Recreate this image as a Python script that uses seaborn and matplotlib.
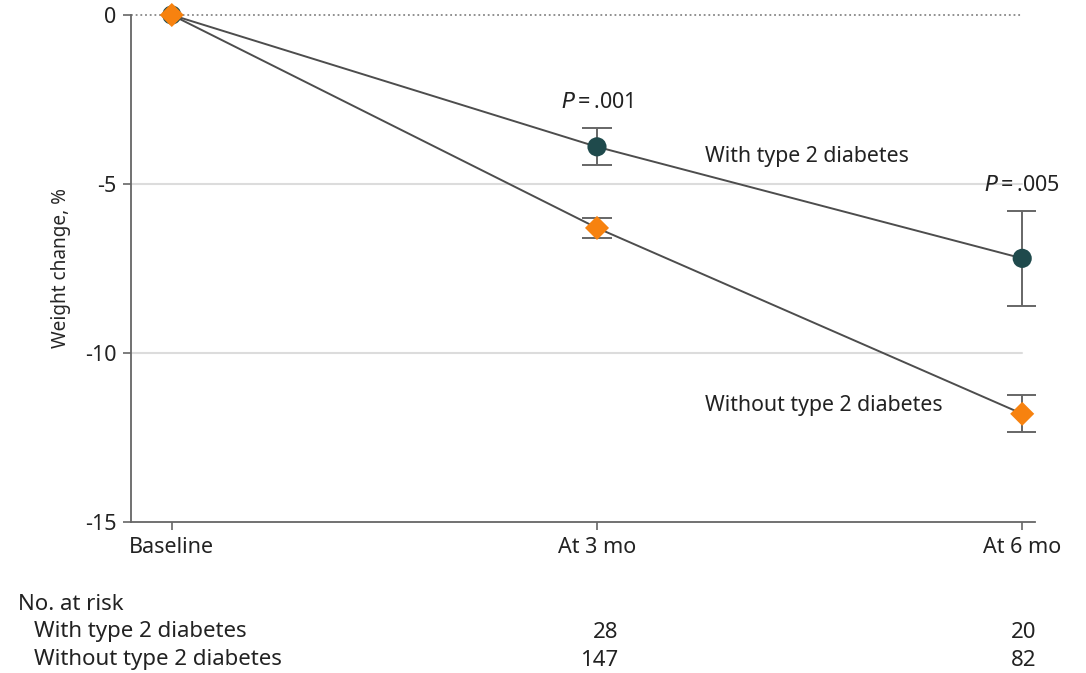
import matplotlib
matplotlib.use("Agg")
import matplotlib.pyplot as plt
import seaborn as sns
import pandas as pd

# Timepoints and group results (mean weight change, % and error half-widths)
timepoints = ["Baseline", "At 3 mo", "At 6 mo"]
with_t2d_mean = [0.0, -3.9, -7.2]
with_t2d_err = [0.0, 0.55, 1.4]
without_t2d_mean = [0.0, -6.3, -11.8]
without_t2d_err = [0.0, 0.3, 0.55]

groups = ["With type 2 diabetes", "Without type 2 diabetes"]
at_risk_with = ["", "28", "20"]
at_risk_without = ["", "147", "82"]
p_values = ["", ".001", ".005"]

y_ticks = [0, -5, -10, -15]

teal = "#1f4a4c"
orange = "#f7820f"
line_gray = "#4d4d4d"
err_gray = "#666666"

sns.set_theme(style="white")
plt.rcParams["font.family"] = ["Noto Sans", "DejaVu Sans"]
plt.rcParams["text.color"] = "#222222"

df = pd.DataFrame({
    "time": list(range(3)) * 2,
    "change": with_t2d_mean + without_t2d_mean,
    "group": [groups[0]] * 3 + [groups[1]] * 3,
})

fig = plt.figure(figsize=(10.86, 6.73), dpi=100)
ax = fig.add_axes([0.1206, 0.2244, 0.8324, 0.7533])

# Reference gridlines and the dotted zero line
for yv in (-5, -10):
    ax.plot([-0.096, 2.0], [yv, yv], color="#dcdcdc", lw=1.5, zorder=0, clip_on=False)
ax.plot([-0.096, 2.0], [0, 0], color="#888888", lw=1.3, ls=(0, (1, 1.6)), zorder=1, clip_on=False)

# Connecting lines
sns.lineplot(data=df, x="time", y="change", units="group", estimator=None,
             color=line_gray, lw=1.4, ax=ax, zorder=2, legend=False)

# Error bars
x = list(range(3))
ax.errorbar(x[1:], with_t2d_mean[1:], yerr=with_t2d_err[1:], fmt="none",
            ecolor=err_gray, elinewidth=1.4, capsize=11, capthick=1.4, zorder=3)
ax.errorbar(x[1:], without_t2d_mean[1:], yerr=without_t2d_err[1:], fmt="none",
            ecolor=err_gray, elinewidth=1.4, capsize=11, capthick=1.4, zorder=3)

# Point markers
sns.scatterplot(data=df[df["group"] == groups[0]], x="time", y="change",
                color=teal, marker="o", s=190, edgecolor="none", ax=ax,
                zorder=4, legend=False, clip_on=False)
sns.scatterplot(data=df[df["group"] == groups[1]], x="time", y="change",
                color=orange, marker="D", s=150, edgecolor="none", ax=ax,
                zorder=5, legend=False, clip_on=False)

ax.set_xlim(-0.096, 2.03)
ax.set_ylim(-15, 0)
ax.set_yticks(y_ticks)
ax.set_yticklabels([str(v) for v in y_ticks])
ax.set_xticks(x)
ax.set_xticklabels(timepoints)
ax.set_xlabel("")
ax.set_ylabel("Weight change, %", fontsize=13.7, labelpad=10)

for side in ("top", "right"):
    ax.spines[side].set_visible(False)
for side in ("left", "bottom"):
    ax.spines[side].set_color("#666666")
    ax.spines[side].set_linewidth(1.3)
ax.tick_params(axis="both", which="both", direction="out", length=5.5, width=1.2,
               color="#666666", labelsize=15.5, labelcolor="#222222",
               bottom=True, left=True)
ax.tick_params(axis="y", pad=5)
ax.tick_params(axis="x", pad=5)
ax.spines["left"].set_bounds(-15, 0)

# P values above the 3- and 6-month points
ax.text(1, -2.6, "$\\it{P}$\u2009=\u2009" + p_values[1], ha="center", va="center", fontsize=15.5)
ax.text(2, -5.05, "$\\it{P}$\u2009=\u2009" + p_values[2], ha="center", va="center", fontsize=15.5)

# Group labels
ax.text(1.253, -4.2, groups[0], ha="left", va="center", fontsize=15.3)
ax.text(1.253, -11.55, groups[1], ha="left", va="center", fontsize=15.3)

# Number-at-risk table
fs_tab = 16
fig.text(18 / 1086, 1 - 604 / 673, "No. at risk", ha="left", va="center", fontsize=fs_tab)
fig.text(34 / 1086, 1 - 632 / 673, groups[0], ha="left", va="center", fontsize=fs_tab)
fig.text(34 / 1086, 1 - 660 / 673, groups[1], ha="left", va="center", fontsize=fs_tab)
right_edges = [None, 618, 1036]
for i in (1, 2):
    for row_y, vals in ((632, at_risk_with), (660, at_risk_without)):
        fig.text(right_edges[i] / 1086, 1 - row_y / 673, vals[i],
                 ha="right", va="center", fontsize=fs_tab)

fig.savefig("out.png", dpi=100)
